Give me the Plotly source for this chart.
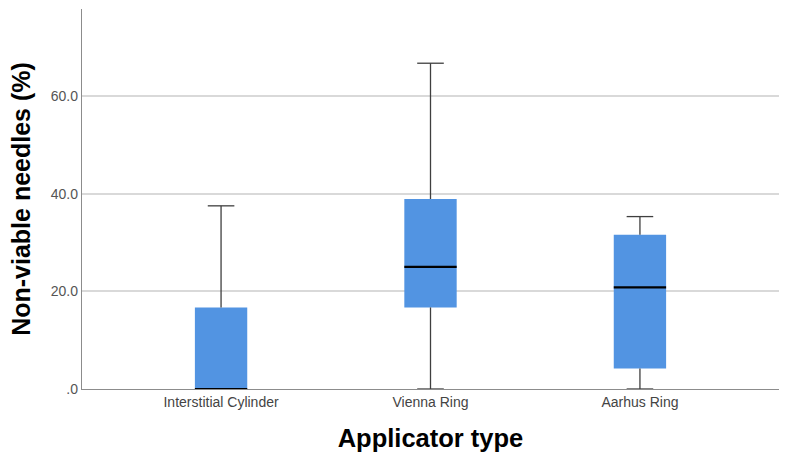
import plotly.graph_objects as go

categories = ["Interstitial Cylinder", "Vienna Ring", "Aarhus Ring"]
minimum = [0.0, 0.0, 0.0]
q1 = [0.0, 16.7, 4.2]
median = [0.0, 25.0, 20.8]
q3 = [16.7, 38.9, 31.6]
maximum = [37.5, 66.7, 35.3]
y_tickvals = [0, 20, 40, 60]
y_ticktext = [".0", "20.0", "40.0", "60.0"]

BOX_W = 0.25
CAP_W = 0.127
BLUE = "#5294E2"
WHISK = "#3f3f3f"

xs = list(range(len(categories)))
fig = go.Figure()

# IQR boxes
fig.add_trace(go.Bar(
    x=xs, y=[b - a for a, b in zip(q1, q3)], base=q1, width=BOX_W,
    marker=dict(color=BLUE, line=dict(width=0)), hoverinfo="skip", showlegend=False,
))

# whiskers + caps
wx, wy = [], []
for i in xs:
    if maximum[i] > q3[i]:
        wx += [i, i, None, i - CAP_W / 2, i + CAP_W / 2, None]
        wy += [q3[i], maximum[i], None, maximum[i], maximum[i], None]
    if minimum[i] < q1[i]:
        wx += [i, i, None, i - CAP_W / 2, i + CAP_W / 2, None]
        wy += [q1[i], minimum[i], None, minimum[i], minimum[i], None]
fig.add_trace(go.Scatter(x=wx, y=wy, mode="lines", line=dict(color=WHISK, width=1.3),
                         hoverinfo="skip", showlegend=False, cliponaxis=False))

# medians
mx, my = [], []
for i in xs:
    mx += [i - BOX_W / 2, i + BOX_W / 2, None]
    my += [median[i], median[i], None]
fig.add_trace(go.Scatter(x=mx, y=my, mode="lines", line=dict(color="#000000", width=2.2),
                         hoverinfo="skip", showlegend=False, cliponaxis=False))

fig.update_layout(
    width=787, height=465,
    margin=dict(l=82, r=8, t=9, b=76),
    paper_bgcolor="white", plot_bgcolor="white",
    font=dict(family="Liberation Sans, Arial, sans-serif"),
    xaxis=dict(
        range=[-0.664, 2.664], tickvals=xs, ticktext=categories,
        showgrid=False, zeroline=False, showline=True, linecolor="#8c8c8c", linewidth=1.3,
        ticks="", tickfont=dict(size=14, color="#444444"),
        title=dict(text="<b>Applicator type</b>", font=dict(size=25.5, color="#000000"), standoff=20),
    ),
    yaxis=dict(
        range=[0, 77.8], tickvals=y_tickvals, ticktext=y_ticktext,
        showgrid=True, gridcolor="#d9d9d9", gridwidth=1.5, zeroline=False,
        showline=True, linecolor="#8c8c8c", linewidth=1.3, ticks="",
        tickfont=dict(size=14, color="#555555"),
        title=dict(text="<b>Non-viable needles (%)</b>", font=dict(size=25, color="#000000"), standoff=13),
    ),
)

fig.write_html("out.html")
